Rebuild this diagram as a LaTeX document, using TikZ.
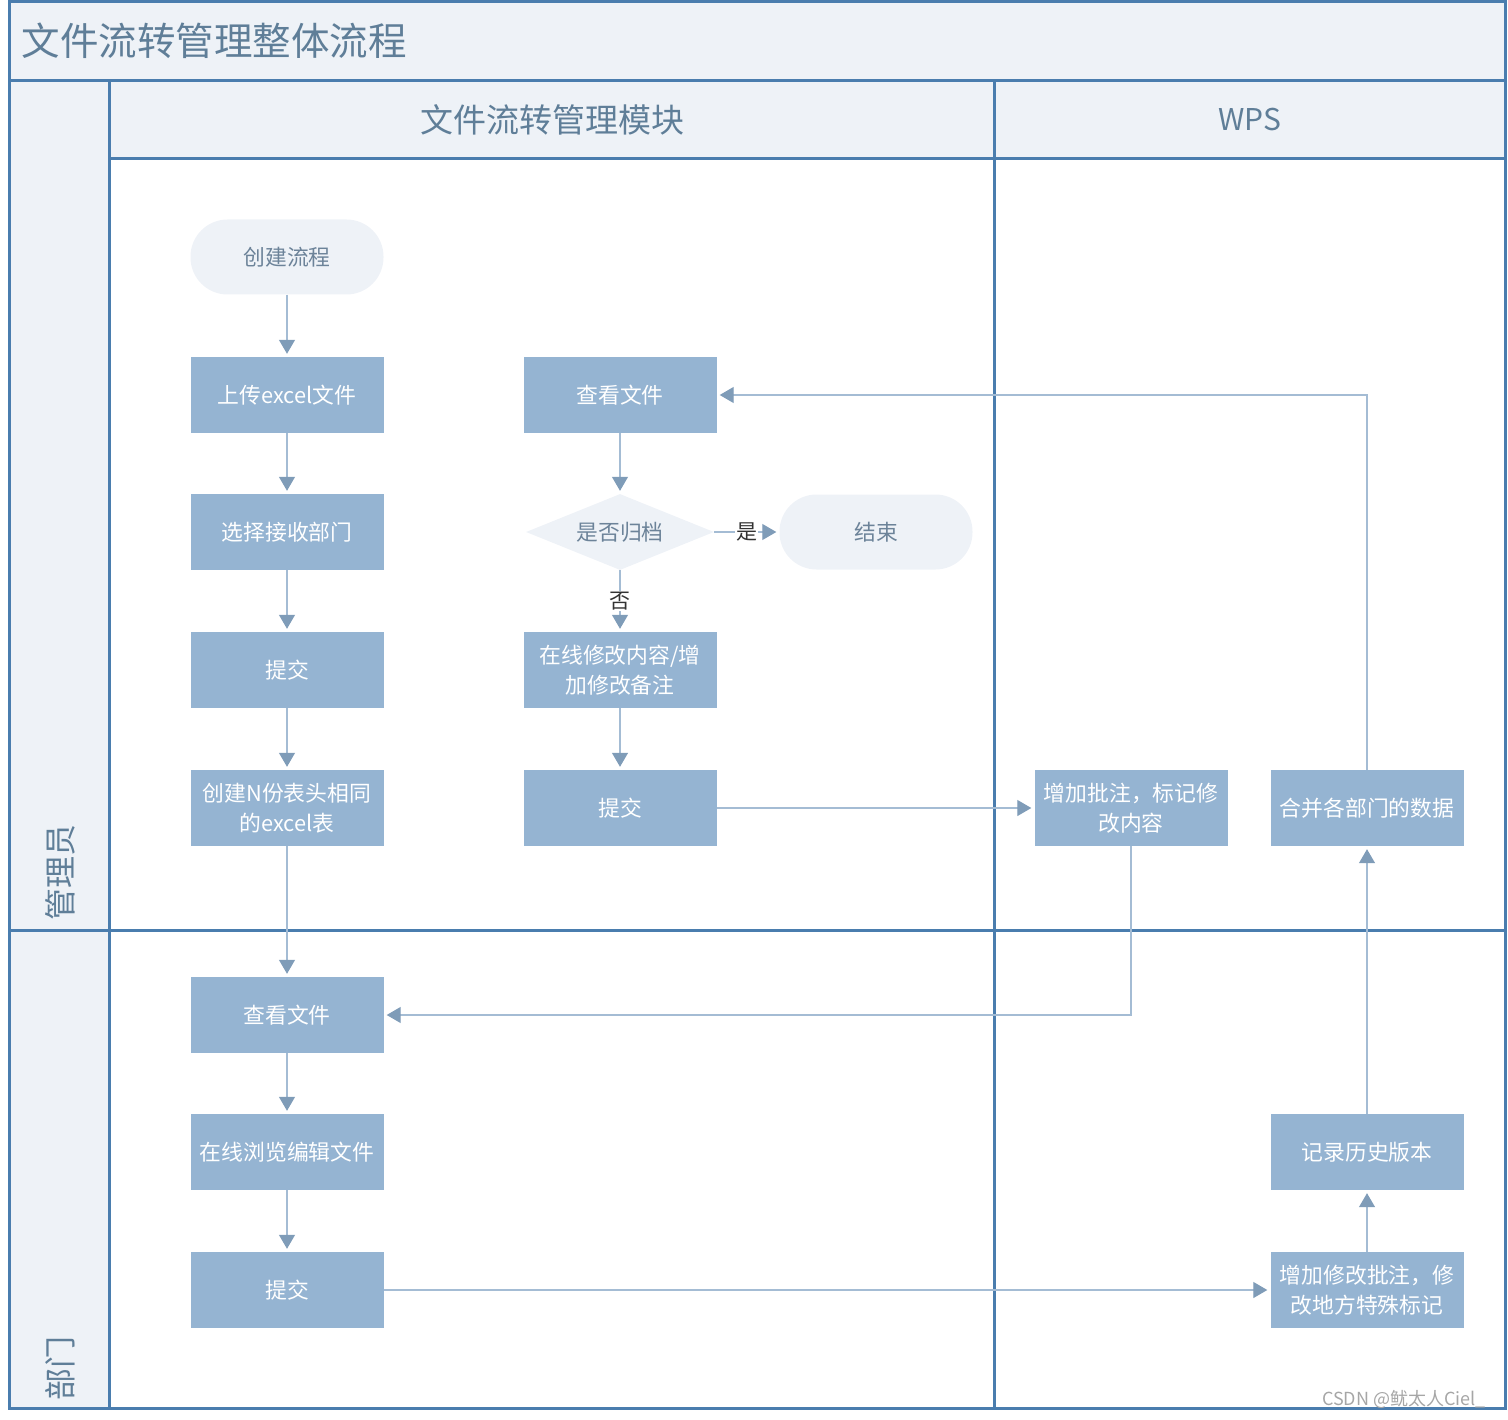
\documentclass[tikz,border=0pt]{standalone}
\usepackage{fontspec}
\setmainfont{Noto Sans CJK SC}
\usetikzlibrary{arrows.meta,positioning,shapes.geometric}

\definecolor{framec}{HTML}{4A7DAE}
\definecolor{headc}{HTML}{EEF2F7}
\definecolor{boxc}{HTML}{95B4D2}
\definecolor{linec}{HTML}{A4BCD4}
\definecolor{tipc}{HTML}{7F9CB8}
\definecolor{titlec}{HTML}{5F7E98}
\definecolor{pillc}{HTML}{6C8399}

\begin{document}
\begin{tikzpicture}[x=1pt,y=-1pt,
  stepbox/.style={fill=boxc,text=white,minimum width=193pt,minimum height=76pt,
    align=center,inner sep=2pt,font=\fontsize{21.8}{30}\selectfont},
  pill/.style={fill=headc,text=pillc,rounded corners=37pt,minimum width=193pt,
    minimum height=75pt,font=\fontsize{21.8}{30}\selectfont},
  choice/.style={diamond,fill=headc,text=pillc,minimum width=188pt,minimum height=76pt,
    shape aspect=2.5,inner sep=0pt,font=\fontsize{21.8}{30}\selectfont},
  flow/.style={draw=linec,line width=1.2pt,
    -{Triangle[length=14pt,width=16pt,color=tipc]},shorten >=3pt},
  yesno/.style={fill=white,text=black!80,inner sep=1pt,font=\fontsize{21}{24}\selectfont},
  lane/.style={draw=framec,line width=3pt}
]
\useasboundingbox (0,0) rectangle (1508,1420);

% Fonds des bandeaux
\fill[headc] (9,2) rectangle (1505,81);
\fill[headc] (9,81) rectangle (109,1408);
\fill[headc] (109,81) rectangle (1505,159);

% Cadre et couloirs
\draw[lane] (9,2) rectangle (1505,1408);
\draw[lane] (9,81) -- (1505,81);
\draw[lane] (109,81) -- (109,1408);
\draw[lane] (109,159) -- (1505,159);
\draw[lane] (994,81) -- (994,1408);
\draw[lane] (9,930) -- (1505,930);

% Titres
\node[anchor=west,text=titlec,font=\fontsize{38.5}{42}\selectfont]
(title) at (18,41) {文件流转管理整体流程};
\node[text=titlec,font=\fontsize{33}{36}\selectfont]
(modhead) at (552,120) {文件流转管理模块};
\node[text=titlec,font=\fontsize{30}{36}\selectfont]
(wpshead) at (1250,120) {WPS};
\node[rotate=90,anchor=west,inner sep=0pt,text=titlec,font=\fontsize{32}{36}\selectfont]
(admin) at (60,921) {管理员};
\node[rotate=90,anchor=west,inner sep=0pt,text=titlec,font=\fontsize{32}{36}\selectfont]
(dept) at (60,1401) {部门};

% Colonne gauche
\node[pill] (create) at (287,257) {创建流程};
\node[stepbox] (upload) at (287,395) {上传excel文件};
\node[stepbox] (choose) at (287,532) {选择接收部门};
\node[stepbox] (submit1) at (287,670) {提交};
\node[stepbox] (copies) at (287,808) {创建N份表头相同\\的excel表};
\node[stepbox] (view2) at (287,1015) {查看文件};
\node[stepbox] (browse) at (287,1152) {在线浏览编辑文件};
\node[stepbox] (submit3) at (287,1290) {提交};

% Colonne du milieu
\node[stepbox] (view1) at (620,395) {查看文件};
\node[choice] (archive) at (620,532) {是否归档};
\node[pill] (finish) at (876,532) {结束};
\node[stepbox] (edit) at (620,670) {在线修改内容/增\\加修改备注};
\node[stepbox] (submit2) at (620,808) {提交};

% Colonne WPS
\node[stepbox] (annotate) at (1131,808) {增加批注，标记修\\改内容};
\node[stepbox] (merge) at (1367,808) {合并各部门的数据};
\node[stepbox] (history) at (1367,1152) {记录历史版本};
\node[stepbox] (mark) at (1367,1290) {增加修改批注，修\\改地方特殊标记};

% Flèches
\draw[flow] (create.south) -- (upload.north);
\draw[flow] (upload.south) -- (choose.north);
\draw[flow] (choose.south) -- (submit1.north);
\draw[flow] (submit1.south) -- (copies.north);
\draw[flow] (copies.south) -- (view2.north);
\draw[flow] (view2.south) -- (browse.north);
\draw[flow] (browse.south) -- (submit3.north);
\draw[flow] (view1.south) -- (archive.north);
\draw[flow] (archive.east) -- node[yesno] {是} (finish.west);
\draw[flow] (archive.south) -- node[yesno] {否} (edit.north);
\draw[flow] (edit.south) -- (submit2.north);
\draw[flow] (submit2.east) -- (annotate.west);
\draw[flow] (annotate.south) |- (view2.east);
\draw[flow] (submit3.east) -- (mark.west);
\draw[flow] (mark.north) -- (history.south);
\draw[flow] (history.north) -- (merge.south);
\draw[flow] (merge.north) |- (view1.east);

% Filigrane
\node[text=gray!70,font=\fontsize{18}{20}\selectfont]
(wmark) at (1404,1399) {CSDN @鱿太人Ciel\_};

\end{tikzpicture}
\end{document}
